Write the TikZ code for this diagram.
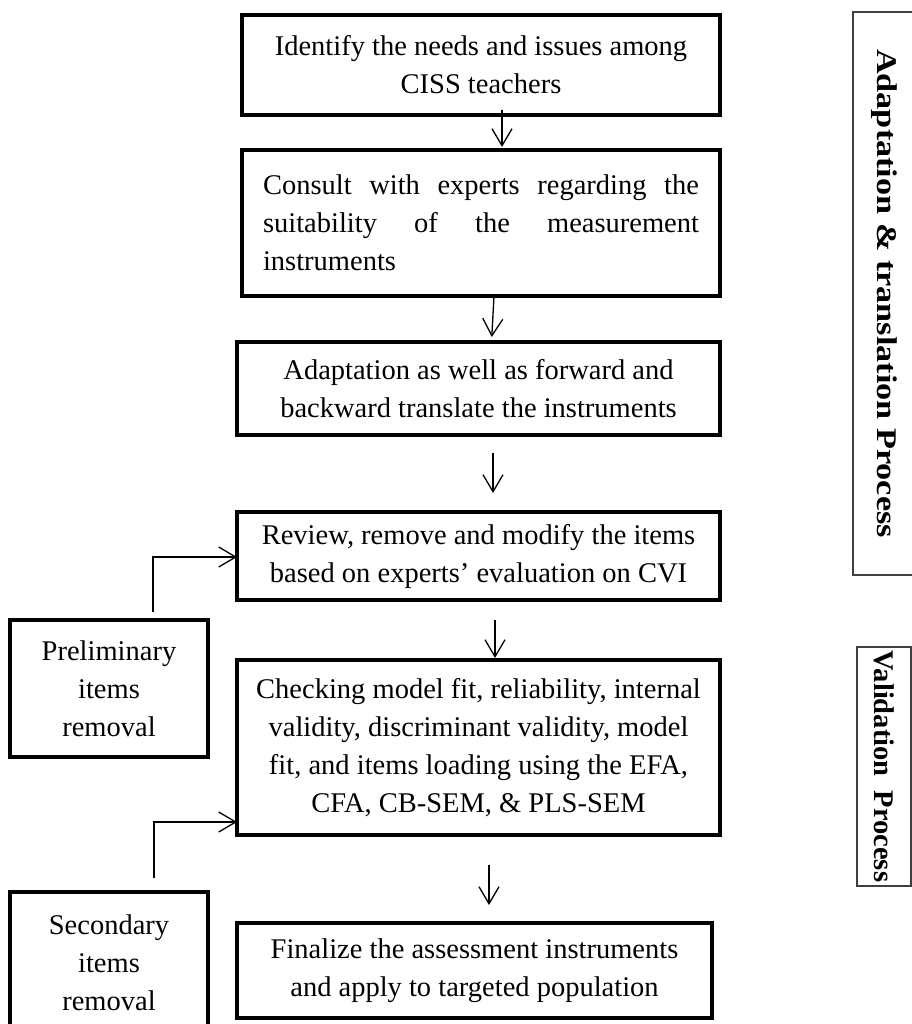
\documentclass[tikz,border=0pt]{standalone}
\usepackage{fontspec}
\setmainfont{Liberation Serif}
\usetikzlibrary{arrows.meta,calc}
\begin{document}
\begin{tikzpicture}[x=1pt,y=-1pt,
 box/.style={draw, line width=4.5pt, inner sep=0pt, outer sep=0pt, align=center, font=\fontsize{28.5}{38}\selectfont},
 side/.style={draw=black!75, line width=1.5pt, inner sep=0pt, outer sep=0pt, font=\fontsize{28.5}{34}\selectfont\bfseries},
 arr/.style={line width=1.3pt, -{Straight Barb[length=17pt,width=20pt,line width=1.3pt]}}]
\useasboundingbox (0,0) rectangle (911,1024);

\node[box, minimum width=478pt, minimum height=100pt] (b1) at (481,65)
  {Identify the needs and issues among\\CISS teachers};
\node[box, minimum width=478pt, minimum height=146pt, align=left] (b2) at (481,223)
  {\makebox[436pt][s]{Consult with experts regarding the}\\
   \makebox[436pt][s]{suitability of the measurement}\\
   instruments};
\node[box, minimum width=483pt, minimum height=93pt] (b3) at (478.5,388.5)
  {Adaptation as well as forward and\\backward translate the instruments};
\node[box, minimum width=483pt, minimum height=88pt] (b4) at (478.5,556)
  {Review, remove and modify the items\\based on experts’ evaluation on CVI};
\node[box, minimum width=483pt, minimum height=175pt] (b5) at (478.5,747.5)
  {Checking model fit, reliability, internal\\validity, discriminant validity, model\\fit, and items loading using the EFA,\\CFA, CB-SEM, \& PLS-SEM};
\node[box, minimum width=475pt, minimum height=95pt] (b6) at (474.5,970.5)
  {Finalize the assessment instruments\\and apply to targeted population};

\node[box, minimum width=198pt, minimum height=137pt] (pre) at (109,688.5)
  {Preliminary\\items\\removal};
\node[box, minimum width=198pt, minimum height=142pt] (sec) at (109,963)
  {Secondary\\items\\removal};

\node[side, rotate=-90, minimum width=563pt, minimum height=62pt] (ra) at (884,293.5)
  {\scalebox{1.2}[1]{Adaptation \& translation Process}};
\node[side, rotate=-90, minimum width=239pt, minimum height=54pt] (rb) at (884,766.5)
  {Validation\ \ Process};

\draw[arr, shorten <=-5pt, shorten >=3pt] ([xshift=21pt]b1.south) -- ([xshift=21pt]b2.north);
\draw[arr, shorten >=5pt] ([xshift=13pt]b2.south) -- ([xshift=13pt]b3.north);
\draw[arr, shorten <=18pt, shorten >=19pt] ([xshift=14.5pt]b3.south) -- ([xshift=14.5pt]b4.north);
\draw[arr, shorten <=20pt, shorten >=2pt] ([xshift=16.5pt]b4.south) -- ([xshift=16.5pt]b5.north);
\draw[arr, shorten <=30pt, shorten >=18pt] ([xshift=10.5pt]b5.south) -- ([xshift=10.5pt]b5.south |- b6.north);

\draw[arr, shorten <=8pt] ([xshift=44pt]pre.north) |- ([yshift=-1pt]b4.west);
\draw[arr, shorten <=14pt] ([xshift=45pt]sec.north) |- ([yshift=-74.5pt]b5.west);
\end{tikzpicture}
\end{document}
